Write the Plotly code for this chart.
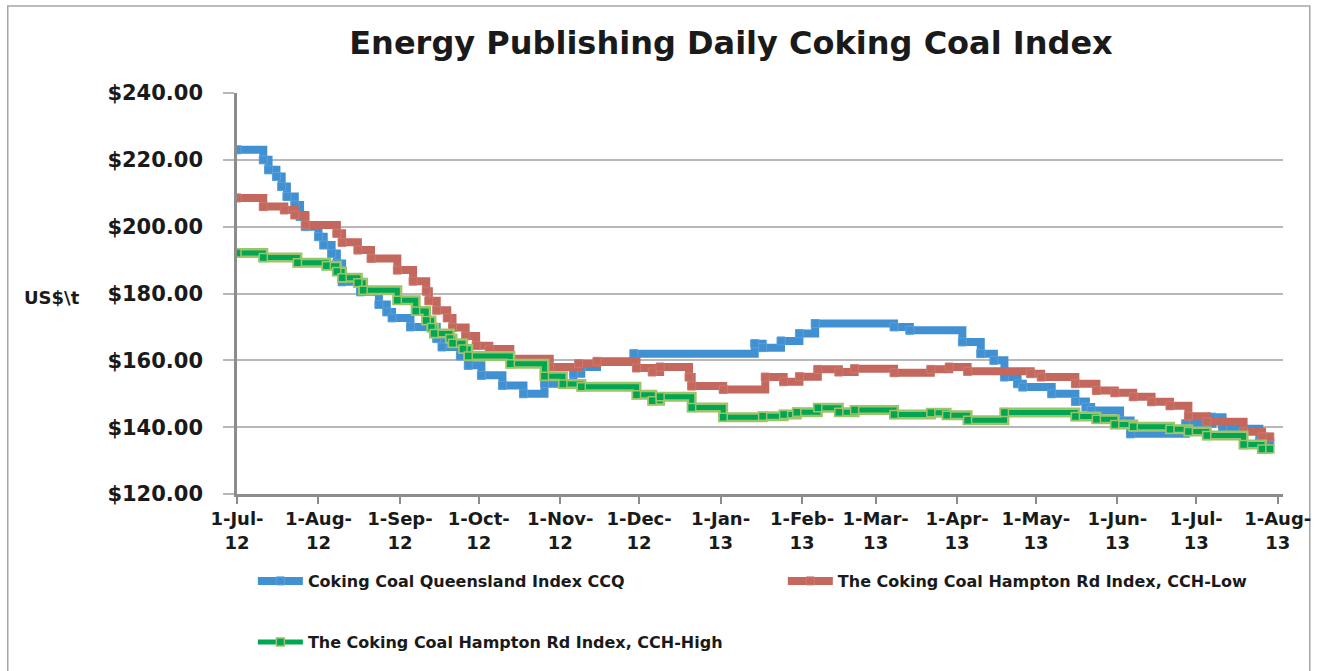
import plotly.graph_objects as go

# ---------------- data ----------------
ccq_dates = ["2012-07-01", "2012-07-11", "2012-07-13", "2012-07-16", "2012-07-18", "2012-07-20",
             "2012-07-23", "2012-07-25", "2012-07-27", "2012-08-01", "2012-08-03", "2012-08-06",
             "2012-08-08", "2012-08-10", "2012-08-17", "2012-08-24", "2012-08-27", "2012-08-29",
             "2012-09-05", "2012-09-15", "2012-09-17", "2012-09-24", "2012-09-27", "2012-10-02",
             "2012-10-10", "2012-10-18", "2012-10-26", "2012-11-06", "2012-11-09", "2012-11-15",
             "2012-11-29", "2013-01-14", "2013-01-17", "2013-01-24", "2013-01-31", "2013-02-06",
             "2013-03-08", "2013-03-14", "2013-04-03", "2013-04-10", "2013-04-15", "2013-04-19",
             "2013-04-24", "2013-04-26", "2013-05-07", "2013-05-16", "2013-05-20", "2013-05-22",
             "2013-06-02", "2013-06-06", "2013-06-27", "2013-07-07", "2013-07-11", "2013-07-25",
             "2013-07-29"]
ccq_values = [223.0, 220.0, 217.0, 215.0, 212.0, 209.0,
              206.5, 203.0, 200.0, 197.0, 194.5, 192.0,
              189.0, 183.5, 180.5, 176.7, 174.5, 172.7,
              170.0, 166.5, 164.0, 161.3, 158.5, 155.5,
              152.5, 150.0, 153.0, 156.0, 158.0, 159.5,
              162.0, 165.0, 163.8, 165.8, 168.0, 171.0,
              170.0, 169.0, 165.5, 162.0, 160.0, 155.0,
              153.0, 152.0, 150.0, 147.7, 146.0, 145.0,
              142.0, 138.0, 141.0, 143.0, 139.5, 135.5,
              135.5]

low_dates = ["2012-07-01", "2012-07-11", "2012-07-19", "2012-07-23", "2012-07-27", "2012-08-08",
             "2012-08-10", "2012-08-16", "2012-08-21", "2012-08-31", "2012-09-06", "2012-09-11",
             "2012-09-12", "2012-09-15", "2012-09-19", "2012-09-21", "2012-09-26", "2012-09-30",
             "2012-10-05", "2012-10-13", "2012-10-28", "2012-11-08", "2012-11-15", "2012-11-30",
             "2012-12-06", "2012-12-09", "2012-12-20", "2012-12-21", "2013-01-02", "2013-01-18",
             "2013-01-25", "2013-01-31", "2013-02-07", "2013-02-15", "2013-02-21", "2013-03-08",
             "2013-03-22", "2013-03-29", "2013-04-05", "2013-04-29", "2013-05-03", "2013-05-16",
             "2013-05-24", "2013-05-31", "2013-06-07", "2013-06-14", "2013-06-21", "2013-06-28",
             "2013-07-05", "2013-07-19", "2013-07-26", "2013-07-29"]
low_values = [208.6, 206.0, 205.0, 203.5, 200.5, 198.0,
              195.3, 193.0, 190.5, 187.0, 183.7, 180.7,
              177.8, 175.0, 172.7, 169.8, 167.3, 164.4,
              163.4, 160.5, 158.0, 159.0, 159.7, 157.7,
              156.5, 158.0, 155.0, 152.3, 151.3, 155.0,
              153.6, 155.1, 157.3, 156.5, 157.5, 156.3,
              157.3, 158.0, 156.7, 156.0, 155.0, 153.0,
              151.0, 150.3, 149.1, 147.6, 146.4, 143.3,
              141.6, 138.6, 137.1, 137.1]

high_dates = ["2012-07-01", "2012-07-11", "2012-07-24", "2012-08-04", "2012-08-08", "2012-08-10",
              "2012-08-16", "2012-08-18", "2012-08-31", "2012-09-07", "2012-09-11", "2012-09-13",
              "2012-09-14", "2012-09-20", "2012-09-21", "2012-09-25", "2012-09-27", "2012-10-13",
              "2012-10-26", "2012-11-02", "2012-11-09", "2012-11-30", "2012-12-06", "2012-12-09",
              "2012-12-21", "2013-01-02", "2013-01-17", "2013-01-25", "2013-01-30", "2013-02-07",
              "2013-02-15", "2013-02-21", "2013-03-08", "2013-03-22", "2013-03-28", "2013-04-05",
              "2013-04-19", "2013-05-16", "2013-05-24", "2013-05-31", "2013-06-07", "2013-06-21",
              "2013-06-28", "2013-07-05", "2013-07-19", "2013-07-26", "2013-07-29"]
high_values = [192.1, 190.8, 189.2, 188.3, 186.6, 184.7,
               183.2, 181.0, 178.0, 174.8, 171.9, 169.8,
               168.0, 166.5, 165.1, 163.4, 161.3, 159.0,
               155.2, 152.9, 152.1, 149.7, 147.9, 149.1,
               145.9, 143.0, 143.3, 143.8, 144.5, 145.8,
               144.5, 145.1, 143.8, 144.3, 143.6, 142.1,
               144.4, 143.2, 142.4, 140.8, 140.1, 139.4,
               138.7, 137.5, 134.8, 133.5, 133.5]

month_ticks = ["2012-07-01", "2012-08-01", "2012-09-01", "2012-10-01", "2012-11-01", "2012-12-01",
               "2013-01-01", "2013-02-01", "2013-03-01", "2013-04-01", "2013-05-01", "2013-06-01",
               "2013-07-01", "2013-08-01"]
month_labels = ["1-Jul-<br>12", "1-Aug-<br>12", "1-Sep-<br>12", "1-Oct-<br>12", "1-Nov-<br>12",
                "1-Dec-<br>12", "1-Jan-<br>13", "1-Feb-<br>13", "1-Mar-<br>13", "1-Apr-<br>13",
                "1-May-<br>13", "1-Jun-<br>13", "1-Jul-<br>13", "1-Aug-<br>13"]
y_ticks = [120, 140, 160, 180, 200, 220, 240]
y_labels = ["$120.00", "$140.00", "$160.00", "$180.00", "$200.00", "$220.00", "$240.00"]

name_ccq = "Coking Coal Queensland Index CCQ"
name_low = "The Coking Coal Hampton Rd Index, CCH-Low"
name_high = "The Coking Coal Hampton Rd Index, CCH-High"

# ---------------- styles ----------------
BLUE = "#4191d2"
RED = "#c4675c"
GREEN = "#00a651"
GREEN_EDGE = "#9cc46b"
FONT = "DejaVu Sans"

fig = go.Figure()

fig.add_trace(go.Scatter(
    x=ccq_dates, y=ccq_values, name=name_ccq, mode="lines+markers",
    line=dict(color=BLUE, width=8, shape="hv"),
    marker=dict(symbol="square", size=8, color=BLUE, line=dict(color="#58a0dc", width=1)),
    legend="legend"))

fig.add_trace(go.Scatter(
    x=low_dates, y=low_values, name=name_low, mode="lines+markers",
    line=dict(color=RED, width=8, shape="hv"),
    marker=dict(symbol="square", size=8, color=RED, line=dict(color="#cc7a70", width=1)),
    legend="legend2"))

fig.add_trace(go.Scatter(
    x=high_dates, y=high_values, name=name_high, mode="lines", showlegend=False,
    line=dict(color=GREEN_EDGE, width=10, shape="hv"), hoverinfo="skip"))

fig.add_trace(go.Scatter(
    x=high_dates, y=high_values, name=name_high, mode="lines+markers",
    line=dict(color=GREEN, width=5, shape="hv"),
    marker=dict(symbol="square", size=8, color=GREEN, line=dict(color=GREEN_EDGE, width=1.5)),
    legend="legend3"))

# plot area: x 237..1291, y 93..494
W, H = 1323, 671
L, R, T, B = 237, 32, 93, 177
pw, ph = W - L - R, H - T - B


def px(xp):
    return (xp - L) / pw


def py(yp):
    return (H - B - yp) / ph


legend_font = dict(family=FONT, size=16, color="#1a1a1a", weight="bold")
common_legend = dict(orientation="h", xanchor="left", yanchor="middle", font=legend_font,
                     bgcolor="rgba(0,0,0,0)", itemwidth=45)

fig.update_layout(
    width=W, height=H,
    margin=dict(l=L, r=R, t=T, b=B),
    paper_bgcolor="white", plot_bgcolor="white",
    title=dict(text="Energy Publishing Daily Coking Coal Index",
               font=dict(family=FONT, size=32, color="#1a1a1a", weight="bold"),
               x=731 / W, xanchor="center", y=1 - 43 / H, yanchor="middle"),
    legend=dict(x=px(253), y=py(581), **common_legend),
    legend2=dict(x=px(787), y=py(581), **common_legend),
    legend3=dict(x=px(253), y=py(642), **common_legend),
    showlegend=True,
)

fig.update_xaxes(
    type="date", range=["2012-07-01", "2013-08-03"],
    tickmode="array", tickvals=month_ticks, ticktext=month_labels,
    tickfont=dict(family=FONT, size=18, color="#1a1a1a", weight="bold"),
    showgrid=False, showline=True, linecolor="#8c8c8c", linewidth=2.5,
    ticks="outside", ticklen=7, tickcolor="#8c8c8c", tickwidth=1.5,
    zeroline=False, tickangle=0,
)
fig.update_yaxes(
    range=[120, 240], tickmode="array", tickvals=y_ticks, ticktext=y_labels,
    tickfont=dict(family=FONT, size=21, color="#1a1a1a", weight="bold"),
    showgrid=True, gridcolor="#b8b8b8", gridwidth=1.5,
    showline=True, linecolor="#8c8c8c", linewidth=2.5,
    ticks="outside", ticklen=11, tickcolor="#b8b8b8", tickwidth=1.5,
    ticklabelstandoff=16, zeroline=False,
)

fig.add_annotation(text="US$\\t", xref="paper", yref="paper", x=px(20), y=py(297),
                   xanchor="left", yanchor="middle", showarrow=False,
                   font=dict(family=FONT, size=18, color="#1a1a1a", weight="bold"))

# chart-area border
fig.add_shape(type="rect", xref="paper", yref="paper",
              x0=px(6), x1=px(1318), y0=py(700), y1=py(6),
              line=dict(color="#a6a6a6", width=1.5), fillcolor="rgba(0,0,0,0)", layer="below")

fig.write_html("out.html")
